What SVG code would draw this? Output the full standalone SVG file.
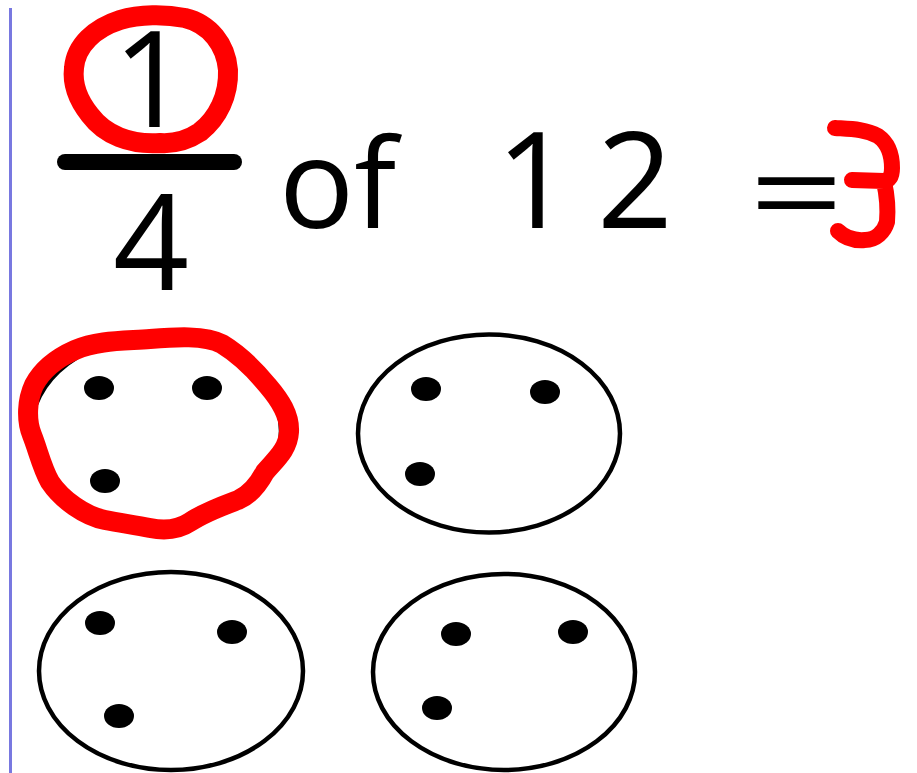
<svg xmlns="http://www.w3.org/2000/svg" width="917" height="773" viewBox="0 0 917 773">
<style>
.t{font-family:"Open Sans","Noto Sans","Liberation Sans",sans-serif;fill:#000}
.grp{fill:none;stroke:#000;stroke-width:4.5}
.dot{fill:#000}
.red{fill:none;stroke:#ff0000;stroke-linecap:round;stroke-linejoin:round}
</style>
<rect width="917" height="773" fill="#fff"/>
<line x1="10.5" y1="8" x2="10.5" y2="773" stroke="#7878e0" stroke-width="3"/>
<g id="fraction">
<text class="t" x="151" y="127" font-size="133" text-anchor="middle">1</text>
<line x1="65" y1="162" x2="234" y2="162" stroke="#000" stroke-width="16" stroke-linecap="round"/>
<text class="t" x="151" y="290" font-size="133" text-anchor="middle">4</text>
</g>
<g id="equation">
<text class="t" x="279" y="228" font-size="125">of</text>
<text class="t" x="534" y="228" font-size="133" text-anchor="middle">1</text>
<text class="t" x="635" y="228" font-size="133" text-anchor="middle">2</text>
<text class="t" transform="translate(796.5,199) scale(1.25,0.9)" x="0" y="40" font-size="133" text-anchor="middle">=</text>
</g>
<g id="group1">
<ellipse class="grp" cx="156" cy="431" rx="125" ry="95"/>
<ellipse class="dot" cx="99" cy="388" rx="15" ry="12"/>
<ellipse class="dot" cx="207" cy="388" rx="15" ry="12"/>
<ellipse class="dot" cx="105" cy="481" rx="15" ry="12"/>
</g>
<g id="group2">
<ellipse class="grp" cx="489" cy="433.5" rx="131" ry="99"/>
<ellipse class="dot" cx="426" cy="389" rx="15" ry="12"/>
<ellipse class="dot" cx="545" cy="392" rx="15" ry="12"/>
<ellipse class="dot" cx="420" cy="474" rx="15" ry="12"/>
</g>
<g id="group3">
<ellipse class="grp" cx="171" cy="671" rx="132" ry="99"/>
<ellipse class="dot" cx="100" cy="623" rx="15" ry="12"/>
<ellipse class="dot" cx="232" cy="632" rx="15" ry="12"/>
<ellipse class="dot" cx="119" cy="716" rx="15" ry="12"/>
</g>
<g id="group4">
<ellipse class="grp" cx="504" cy="672" rx="131" ry="98"/>
<ellipse class="dot" cx="456" cy="634" rx="15" ry="12"/>
<ellipse class="dot" cx="573" cy="632" rx="15" ry="12"/>
<ellipse class="dot" cx="437" cy="708" rx="15" ry="12"/>
</g>
<g id="annotations">
<path class="red" stroke-width="20" d="M160 143 C130 145 105 135 90 115 C78 100 72 85 74 68 C76 45 95 28 120 20 C140 14 165 14 185 18 C210 24 226 45 228 70 C229 95 218 118 200 132 C188 140 175 144 160 143 Z"/>
<path class="red" stroke-width="16" d="M835 128 C850 129 865 129 878 136 C888 143 892 155 892 168 C892 176 890 180 884 181 L852 180 M884 182 C887 195 888 210 887 222 C884 232 876 240 865 240 C852 241 843 236 838 231"/>
<path class="red" stroke-width="20" d="M150 339 C175 337 205 335 222 344 C240 355 255 370 268 386 C280 400 290 415 289 432 C288 450 275 460 265 472 C258 485 250 495 238 500 C222 506 205 512 190 522 C178 530 165 531 150 528 C135 525 120 523 105 520 C85 516 62 500 50 482 C42 468 38 450 32 435 C26 420 27 400 34 385 C43 368 57 358 75 350 C98 340 125 341 150 339 Z"/>
</g>
</svg>
